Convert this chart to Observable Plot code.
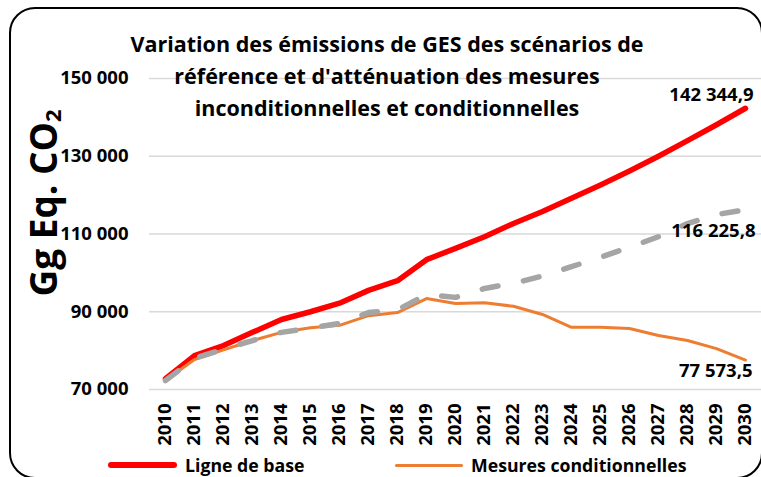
<!DOCTYPE html>
<html>
<head>
<meta charset="utf-8">
<script src="https://cdn.jsdelivr.net/npm/d3@7"></script>
<script src="https://cdn.jsdelivr.net/npm/@observablehq/plot@0.6"></script>
<style>
  html, body { margin: 0; padding: 0; background: #fff; }
  body { width: 761px; height: 477px; overflow: hidden; position: relative; font-family: "Open Sans", sans-serif; }
  #chart { position: absolute; left: 0; top: 0; }
  #frame { position: absolute; left: 9px; top: 7px; width: 754px; height: 472px; border: 2px solid #000; border-radius: 26px; box-sizing: border-box; pointer-events: none; }
  #title { position: absolute; left: 0; top: 28px; width: 774px; text-align: center; font-weight: bold; font-size: 21.5px; line-height: 32px; color: #000; }
  #ylabel { position: absolute; left: 42px; top: 203px; transform: translate(-50%, -50%) rotate(-90deg); white-space: nowrap; font-weight: bold; font-size: 37px; color: #000; }
  #ylabel sub { font-size: 22px; vertical-align: -0.2em; }
  .leg { position: absolute; top: 453px; font-weight: bold; font-size: 17.7px; color: #000; display: flex; align-items: center; white-space: nowrap; }
  .sw { display: inline-block; border-radius: 3px; margin-right: 8px; }
</style>
</head>
<body>
<div id="chart"></div>
<div id="title">Variation des émissions de GES des scénarios de<br>référence et d'atténuation des mesures<br>inconditionnelles et conditionnelles</div>
<div id="ylabel">Gg Eq. CO<sub>2</sub></div>
<div class="leg" style="left:108px"><span class="sw" style="width:69px;height:6px;background:#ff0000"></span>Ligne de base</div>
<div class="leg" style="left:395px"><span class="sw" style="width:68px;height:3px;background:#ed7d31"></span>Mesures conditionnelles</div>
<div id="frame"></div>
<script>
const years = ["2010","2011","2012","2013","2014","2015","2016","2017","2018","2019","2020","2021","2022","2023","2024","2025","2026","2027","2028","2029","2030"];
const ligneDeBase = [72800, 78700, 81300, 84700, 88000, 90000, 92200, 95500, 98000, 103400, 106300, 109300, 112700, 115800, 119200, 122600, 126200, 130000, 134000, 138100, 142344.9];
const mesuresInconditionnelles = [72300, 78000, 80400, 82600, 84700, 85800, 87000, 89800, 90500, 94400, 93700, 96000, 97300, 99200, 101600, 104000, 106600, 109300, 112700, 115000, 116225.8];
const mesuresConditionnelles = [72400, 77700, 80200, 82600, 84700, 85900, 86500, 89000, 89800, 93400, 92100, 92300, 91400, 89300, 86000, 86000, 85700, 83900, 82600, 80500, 77573.5];
const yTicks = [70000, 90000, 110000, 130000, 150000];

const locale = d3.formatLocale({decimal: ",", thousands: " ", grouping: [3], currency: ["", ""]});
const fmtTick = locale.format(",.0f");
const fmtVal = locale.format(",.1f");

const toRows = (vals) => years.map((y, i) => ({year: y, value: vals[i]}));
const base = toRows(ligneDeBase);
const incond = toRows(mesuresInconditionnelles);
const cond = toRows(mesuresConditionnelles);
const last = (rows) => [rows[rows.length - 1]];

const plot = Plot.plot({
  width: 761,
  height: 477,
  marginLeft: 149,
  marginRight: 0,
  marginTop: 78,
  marginBottom: 88,
  style: {fontFamily: "'Open Sans', sans-serif", color: "#000", background: "transparent"},
  x: {type: "point", domain: years, padding: 0.5, label: null},
  y: {domain: [70000, 150000], label: null},
  marks: [
    Plot.gridY(yTicks, {stroke: "#d9d9d9", strokeOpacity: 1, strokeWidth: 1.5}),
    Plot.axisY(yTicks, {tickSize: 0, tickPadding: 21, tickFormat: fmtTick, fontSize: 18.5, fontWeight: "bold", fill: "#000", label: null}),
    Plot.axisX({tickSize: 0, tickPadding: 14, tickRotate: -90, fontSize: 18.5, fontWeight: "bold", fill: "#000", label: null}),
    Plot.line(base, {x: "year", y: "value", stroke: "#ff0000", strokeWidth: 5.5, strokeLinecap: "round", strokeLinejoin: "round"}),
    Plot.line(cond, {x: "year", y: "value", stroke: "#ed7d31", strokeWidth: 3, strokeLinejoin: "round"}),
    Plot.line(incond, {x: "year", y: "value", stroke: "#a5a5a5", strokeWidth: 5.5, strokeDasharray: "16,26", strokeLinecap: "round", strokeLinejoin: "round"}),
    Plot.text(last(base), {x: "year", y: "value", text: d => fmtVal(d.value), textAnchor: "end", dx: 8, dy: -13, fontSize: 18.5, fontWeight: "bold", fill: "#000"}),
    Plot.text(last(incond), {x: "year", y: "value", text: d => fmtVal(d.value), textAnchor: "end", dx: 10, dy: 21, fontSize: 18.5, fontWeight: "bold", fill: "#000"}),
    Plot.text(last(cond), {x: "year", y: "value", text: d => fmtVal(d.value), textAnchor: "end", dx: 7, dy: 11, fontSize: 18.5, fontWeight: "bold", fill: "#000"})
  ]
});
document.getElementById("chart").appendChild(plot);
</script>
</body>
</html>
